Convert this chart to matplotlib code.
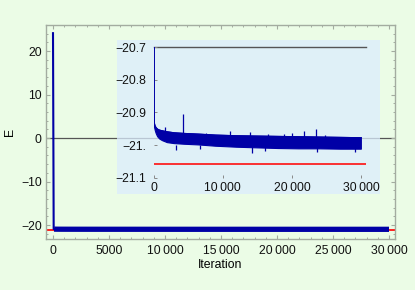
import matplotlib
matplotlib.use("Agg")
import matplotlib.pyplot as plt
from matplotlib.patches import Rectangle
from matplotlib.ticker import MultipleLocator, FixedLocator

plt.rcParams['font.family'] = ['Liberation Sans', 'DejaVu Sans']
plt.rcParams['axes.unicode_minus'] = True

# energy trace: band envelope of the noisy optimisation run
iters = [0, 60, 100, 150, 250, 400, 600, 900, 1300, 2000, 3000, 4500,
         6500, 9000, 12000, 15000, 18000, 21000, 24000, 27000, 30000]
e_upper = [24.1, -20.90, -20.925, -20.935, -20.942, -20.947, -20.951, -20.954,
           -20.956, -20.959, -20.962, -20.964, -20.966, -20.969, -20.971,
           -20.972, -20.973, -20.974, -20.975, -20.976, -20.977]
e_lower = [24.1, -20.90, -20.93, -20.945, -20.955, -20.965, -20.974, -20.981,
           -20.986, -20.992, -20.995, -20.997, -20.999, -21.003, -21.006,
           -21.008, -21.010, -21.011, -21.011, -21.012, -21.012]
# isolated upward spikes and downward dips of the trace
spike_iters = [1600, 4200, 7600, 11040, 13900, 16500, 18800, 19990, 21720, 23450, 24750]
spike_peaks = [-20.944, -20.906, -20.962, -20.956, -20.96, -20.966, -20.966,
               -20.962, -20.958, -20.951, -20.968]
dip_iters = [3300, 6700, 14200, 16100, 23600, 29100]
dip_lows = [-21.014, -21.012, -21.024, -21.018, -21.021, -21.02]
e_exact = -21.056

main_xticks = [0, 5000, 10000, 15000, 20000, 25000, 30000]
main_xlabels = ["0", "5000", "10\u2009000", "15\u2009000", "20\u2009000", "25\u2009000", "30\u2009000"]
main_yticks = [-20, -10, 0, 10, 20]
inset_xticks = [0, 10000, 20000, 30000]
inset_xlabels = ["0", "10\u2009000", "20\u2009000", "30\u2009000"]
inset_yticks = [-21.1, -21.0, -20.9, -20.8, -20.7]
inset_ylabels = ["\u221221.1", "\u221221.", "\u221220.9", "\u221220.8", "\u221220.7"]

blue = "#0000a6"
red = "#ff1010"
frame = "#a3aca0"
bg = "#ebfce6"
W, H = 415, 290

fig = plt.figure(figsize=(W / 100, H / 100), dpi=100, facecolor=bg)

def px_axes(l, t, r, b):
    return [l / W, 1 - b / H, (r - l) / W, (b - t) / H]

ax = fig.add_axes(px_axes(46, 25, 395, 239))
ax.set_facecolor("none")
ax.set_xlim(-625, 30536)
ax.set_ylim(-23.2, 25.98)
ax.axhline(0, color="#555555", lw=0.9, zorder=1)
ax.axhline(e_exact, color=red, lw=1.3, zorder=2)
# initial drop drawn thin, converged part drawn as a thick band
ax.plot(iters[:3], e_upper[:3], color=blue, lw=1.5, zorder=3)
ax.plot(iters[2:], e_upper[2:], color=blue, lw=3.8, zorder=3, solid_capstyle="butt")

for s in ax.spines.values():
    s.set_color(frame)
    s.set_linewidth(1.0)
ax.xaxis.set_major_locator(FixedLocator(main_xticks))
ax.set_xticklabels(main_xlabels)
ax.xaxis.set_minor_locator(MultipleLocator(1000))
ax.yaxis.set_major_locator(FixedLocator(main_yticks))
ax.yaxis.set_minor_locator(MultipleLocator(2))
ax.tick_params(which="both", direction="in", top=True, right=True, colors=frame,
               labelcolor="#111111", labelsize=8.8)
ax.tick_params(which="major", length=3.2, width=0.8)
ax.tick_params(which="minor", length=1.6, width=0.7)
ax.tick_params(axis="y", pad=3)
ax.tick_params(axis="x", pad=4)
ax.set_xlabel("Iteration", fontsize=8.8, labelpad=2)
ax.set_ylabel("E", fontsize=8.8, labelpad=4)

# inset background (semi-transparent so the main zero axis shows through)
fig.patches.append(Rectangle((117 / W, 1 - 194 / H), (380 - 117) / W, (194 - 40) / H,
                             transform=fig.transFigure, facecolor="#dcedfe",
                             alpha=0.75, edgecolor="none", zorder=1))

axi = fig.add_axes(px_axes(153.5, 47, 365.5, 178))
axi.set_zorder(2)
axi.set_facecolor("none")
axi.set_xlim(0, 30600)
axi.set_ylim(-21.1, -20.7)
for s in axi.spines.values():
    s.set_visible(False)
axi.axhline(-20.7, color="#555555", lw=1.0, zorder=1, clip_on=False)
axi.axhline(e_exact, color=red, lw=1.2, zorder=2)
axi.fill_between(iters, e_lower, e_upper, color=blue, lw=0.8, zorder=3)
axi.plot(iters, e_upper, color=blue, lw=0.8, zorder=3)
axi.vlines(spike_iters, -20.975, spike_peaks, color=blue, lw=0.9, zorder=3)
axi.vlines(dip_iters, -21.0, dip_lows, color=blue, lw=0.9, zorder=3)
axi.xaxis.set_major_locator(FixedLocator(inset_xticks))
axi.set_xticklabels(inset_xlabels)
axi.yaxis.set_major_locator(FixedLocator(inset_yticks))
axi.set_yticklabels(inset_ylabels)
axi.tick_params(direction="in", length=2, width=0.7, colors="#888888",
                labelcolor="#111111", labelsize=8.8)
axi.tick_params(axis="y", pad=5)
axi.tick_params(axis="x", pad=3)

fig.savefig("out.png", dpi=100, facecolor=bg)
